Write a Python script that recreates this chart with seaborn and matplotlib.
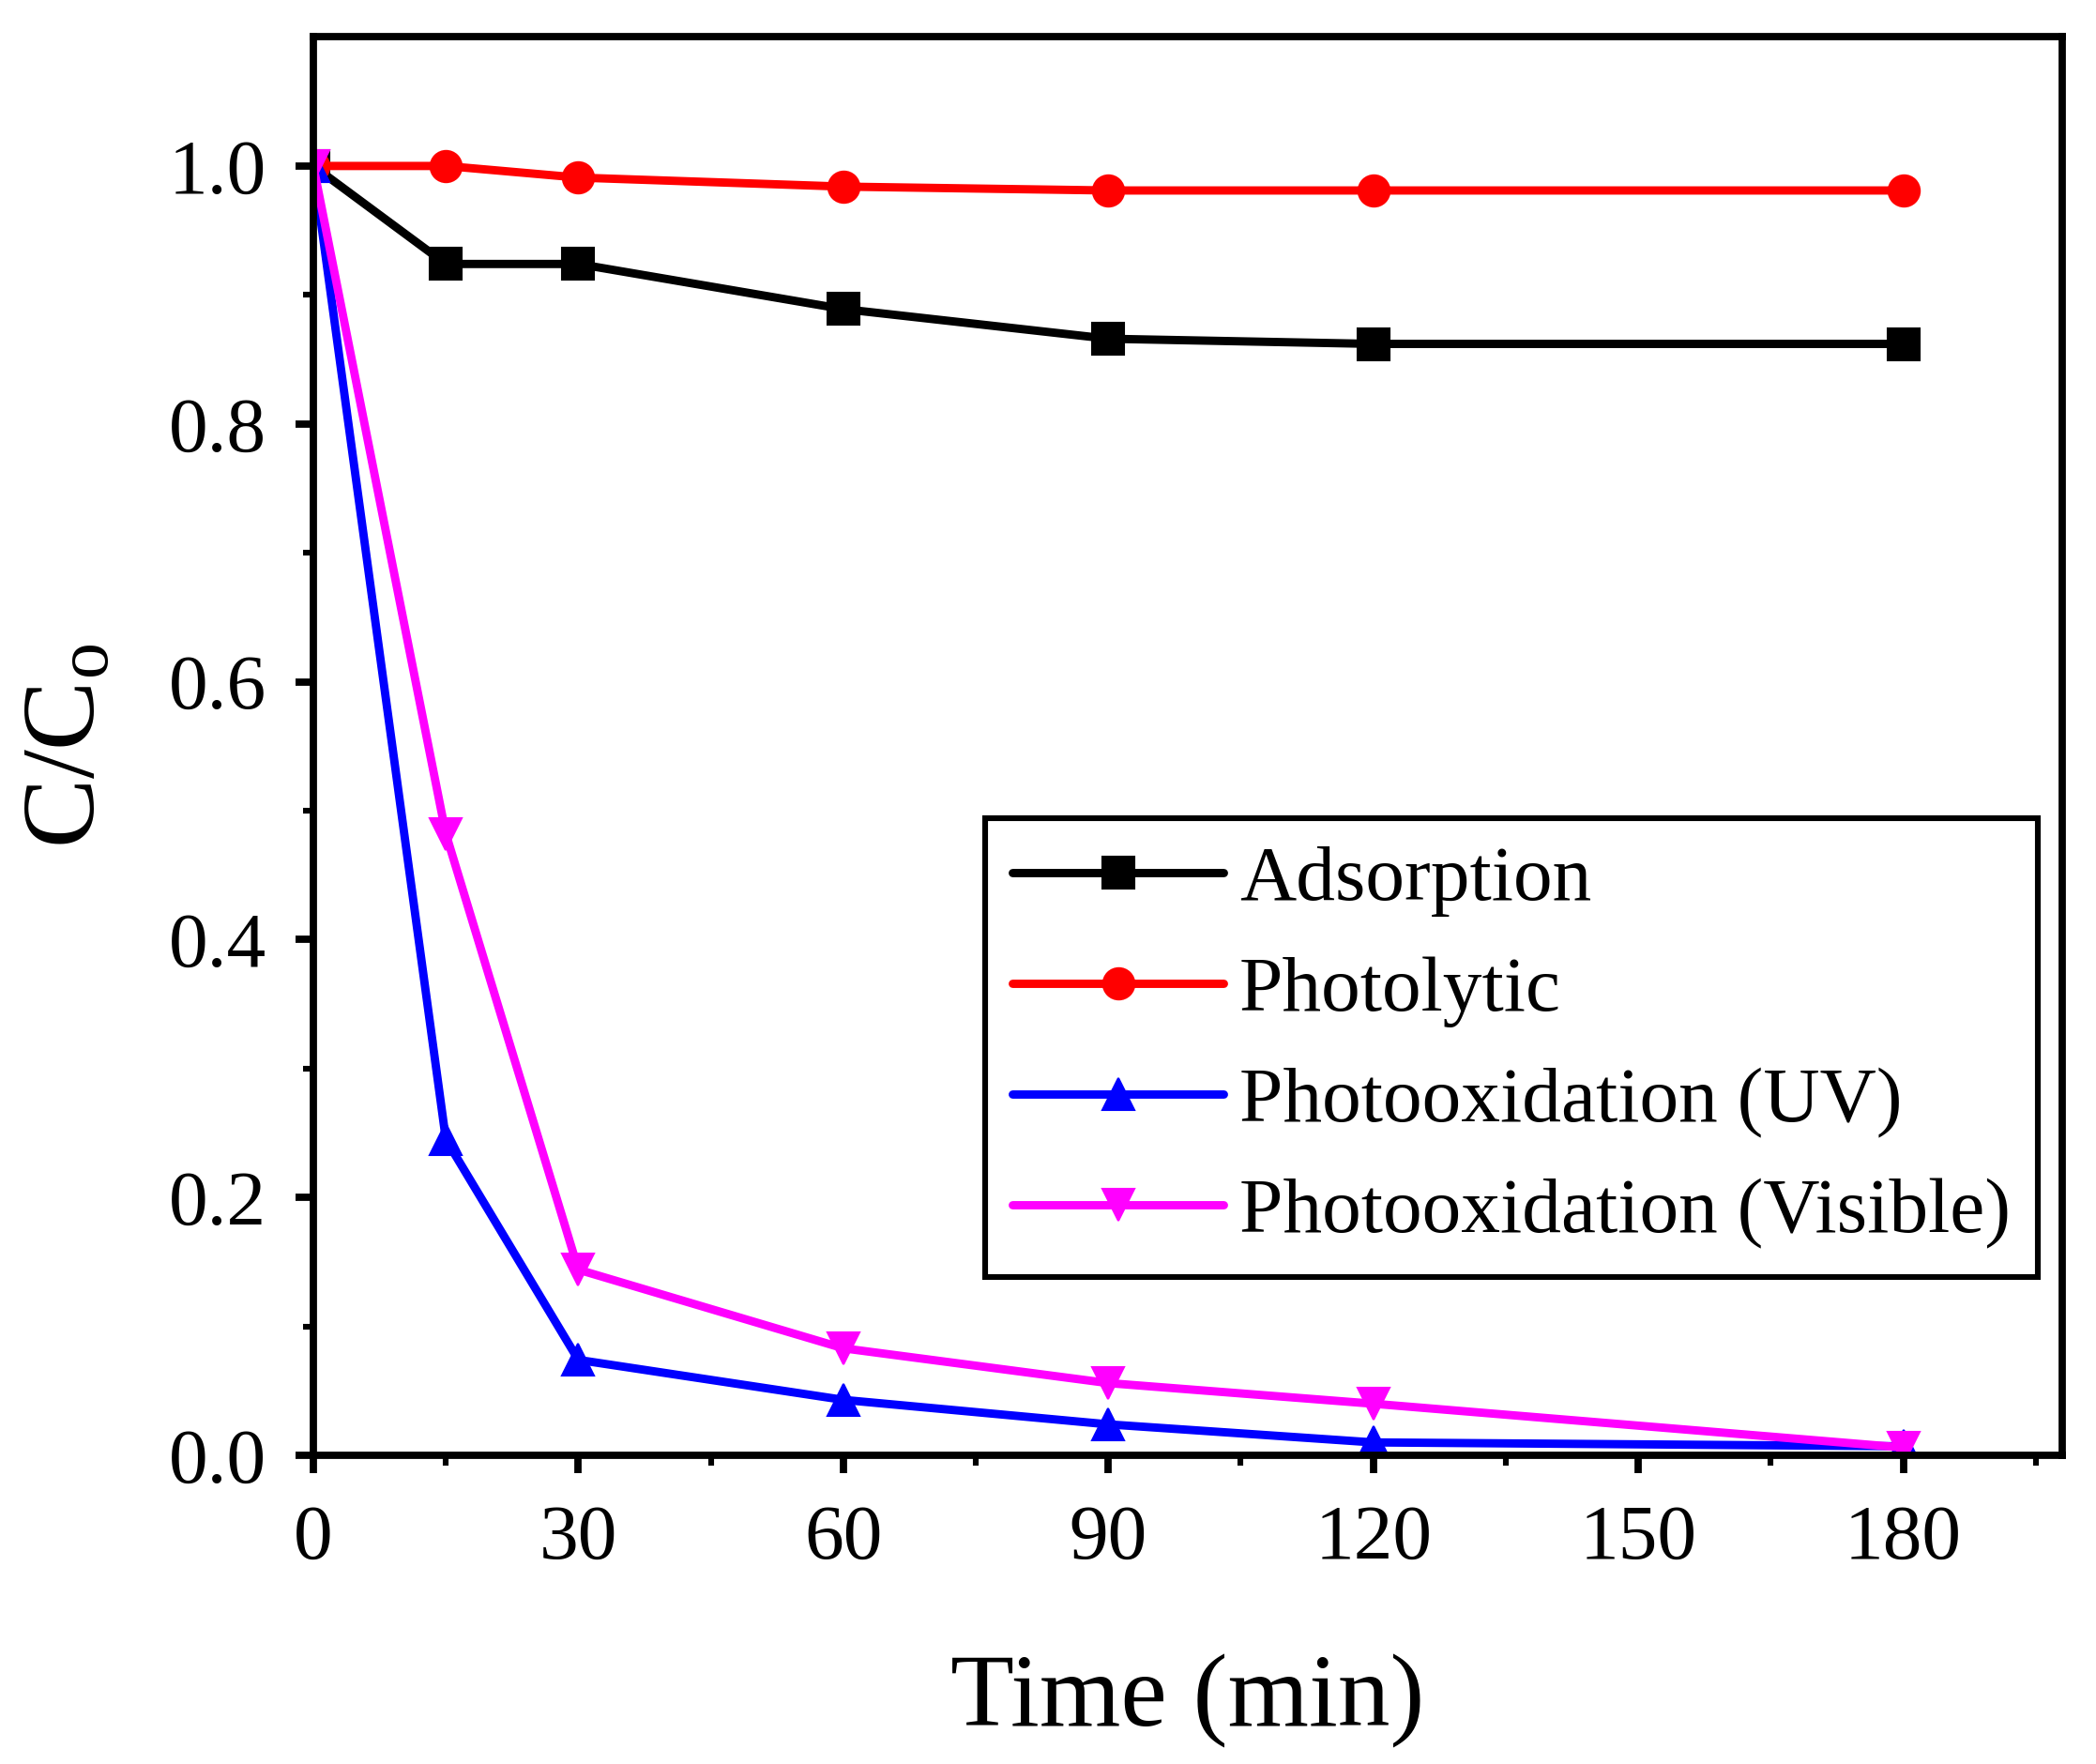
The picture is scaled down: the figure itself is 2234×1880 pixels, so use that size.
import matplotlib
matplotlib.use('Agg')
import matplotlib.pyplot as plt
import seaborn as sns
import numpy as np

time_min = [0, 15, 30, 60, 90, 120, 180]
adsorption = [1.0, 0.924, 0.924, 0.889, 0.866, 0.862, 0.862]
photolytic = [1.0, 1.0, 0.991, 0.984, 0.981, 0.981, 0.981]
photo_uv = [1.0, 0.245, 0.074, 0.043, 0.024, 0.01, 0.007]
photo_vis = [1.0, 0.482, 0.144, 0.083, 0.056, 0.04, 0.006]

series = [
    ('Adsorption', adsorption, 'black', 's'),
    ('Photolytic', photolytic, 'red', 'o'),
    ('Photooxidation (UV)', photo_uv, 'blue', '^'),
    ('Photooxidation (Visible)', photo_vis, 'magenta', 'v'),
]

sns.set_style('ticks')
plt.rcParams['font.family'] = ['Liberation Serif', 'DejaVu Serif']
plt.rcParams['mathtext.fontset'] = 'custom'
plt.rcParams['mathtext.rm'] = 'Liberation Serif'
plt.rcParams['mathtext.it'] = 'Liberation Serif'
plt.rcParams['text.color'] = 'black'
plt.rcParams['axes.labelcolor'] = 'black'

fig = plt.figure(figsize=(11.17, 9.4), dpi=200)
ax = fig.add_axes([0.1495, 0.175, 0.8344, 0.804])

for name, vals, col, mk in series:
    sns.lineplot(x=time_min, y=vals, ax=ax, color=col, marker=mk, markersize=12,
                 markeredgecolor=col, linewidth=3.2, label=name)

ax.set_xlim(0, 198)
ax.set_ylim(0, 1.1)
ax.set_xticks(np.arange(0, 181, 30))
ax.set_xticks(np.arange(15, 196, 30), minor=True)
ax.set_yticks(np.arange(0, 1.01, 0.2))
ax.set_yticks(np.arange(0.1, 1.01, 0.2), minor=True)
ax.set_yticklabels(['0.0', '0.2', '0.4', '0.6', '0.8', '1.0'])

for s in ax.spines.values():
    s.set_linewidth(2.8)
    s.set_color('black')
ax.tick_params(which='major', direction='out', length=7, width=2.8, labelsize=30, pad=11, colors='black')
ax.tick_params(which='minor', direction='out', length=4, width=2.2, colors='black')
ax.tick_params(axis='x', which='major', pad=12)

ax.set_xlabel('Time (min)', fontsize=40, labelpad=30)
ax.set_ylabel('C/C$_\\mathrm{o}$', fontsize=40, labelpad=20)

leg = ax.legend(loc='lower right', bbox_to_anchor=(0.986, 0.126), fontsize=30, frameon=True,
                fancybox=False, edgecolor='black', handlelength=2.7, handletextpad=0.2,
                labelspacing=0.5, borderpad=0.35, borderaxespad=0)
leg.get_frame().set_linewidth(2.2)
leg.get_frame().set_alpha(1)

fig.savefig('out.png', dpi=200)
